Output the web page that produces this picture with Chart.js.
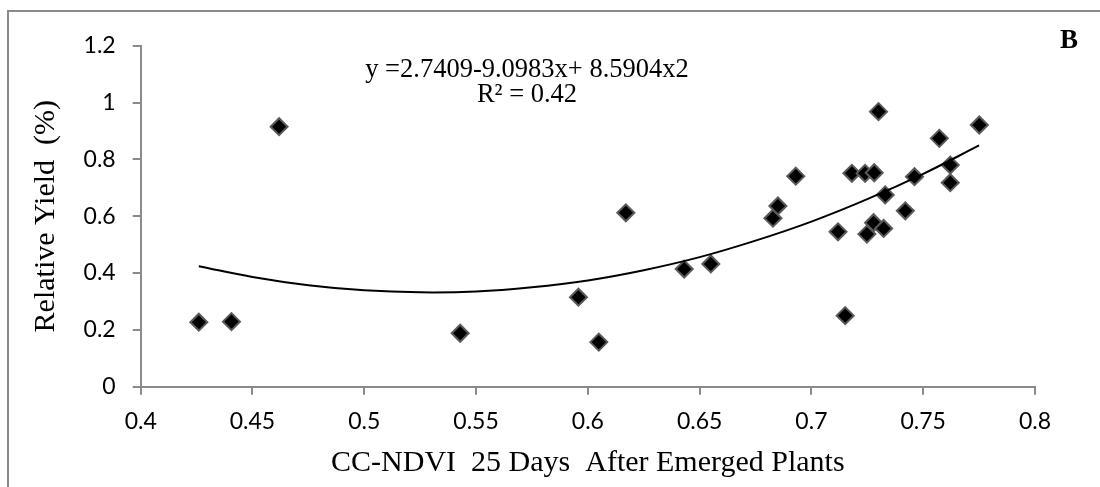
<!DOCTYPE html>
<html>
<head>
<meta charset="utf-8">
<script src="https://cdn.jsdelivr.net/npm/chart.js@4/dist/chart.umd.min.js"></script>
<style>
  html,body{margin:0;padding:0;background:#fff;}
  #chartB{display:block;}
</style>
</head>
<body>
<canvas id="chartB" width="1100" height="487"></canvas>
<script>
// measured points: CC-NDVI (x) vs relative yield (y)
const ndvi = [0.426,0.4406,0.4619,0.5429,0.5958,0.6049,0.617,0.6431,0.655,0.6828,0.685,0.693,0.7119,0.7151,
  0.7181,0.724,0.7248,0.7278,0.7281,0.730,0.7323,0.733,0.742,0.7461,0.7572,0.7621,0.7621,0.7751];
const relYield = [0.227,0.229,0.915,0.188,0.315,0.157,0.612,0.414,0.432,0.593,0.636,0.741,0.545,0.250,
  0.751,0.751,0.537,0.577,0.753,0.968,0.557,0.675,0.619,0.739,0.874,0.780,0.718,0.921];

// polynomial trendline
const trendX = [0.426,0.45,0.475,0.5,0.525,0.55,0.575,0.6,0.625,0.65,0.675,0.7,0.725,0.75,0.775];
const trendY = [0.424,0.386,0.357,0.339,0.332,0.335,0.350,0.374,0.410,0.456,0.514,0.581,0.660,0.749,0.849];

const xTickValues = [0.4,0.45,0.5,0.55,0.6,0.65,0.7,0.75,0.8];
const xTickLabels = ['0.4','0.45','0.5','0.55','0.6','0.65','0.7','0.75','0.8'];
const yTickValues = [0,0.2,0.4,0.6,0.8,1,1.2];
const yTickLabels = ['0','0.2','0.4','0.6','0.8','1','1.2'];

const equationLines = ['y =2.7409-9.0983x+ 8.5904x2','R\u00B2 = 0.42'];
const panelLabel = 'B';

const axisGrey = '#8a8a8a';
const tickFont = {family:'Lato, "Open Sans", sans-serif', size:23, lineHeight:1.2};
const titleFont = {family:'"Liberation Serif", "Times New Roman", serif', size:30, lineHeight:1};

const frameAndText = {
  id:'frameAndText',
  beforeDraw(chart){
    const ctx = chart.ctx;
    ctx.save();
    ctx.strokeStyle = axisGrey; ctx.lineWidth = 2;
    ctx.strokeRect(8, 11, 1300, 700);
    ctx.restore();
  },
  afterDraw(chart){
    const ctx = chart.ctx;
    ctx.save();
    ctx.fillStyle = '#000';
    ctx.textAlign = 'center'; ctx.textBaseline = 'alphabetic';
    ctx.font = '26.5px "Liberation Serif", "Times New Roman", serif';
    ctx.fillText(equationLines[0], 527, 77);
    ctx.fillText(equationLines[1], 527, 102);
    ctx.textAlign = 'left';
    ctx.font = 'bold 27px "Liberation Serif", "Times New Roman", serif';
    ctx.fillText(panelLabel, 1060, 48);
    ctx.restore();
  }
};

new Chart(document.getElementById('chartB'), {
  type:'scatter',
  data:{datasets:[
    {label:'trend', data:trendX.map((x,i)=>({x, y:trendY[i]})), showLine:true, borderColor:'#000', borderWidth:2,
      pointRadius:0, tension:0.4, fill:false},
    {label:'points', data:ndvi.map((x,i)=>({x, y:relYield[i]})), pointStyle:'rectRot', pointRadius:8.5,
      pointHoverRadius:8.5, backgroundColor:'#000', borderColor:'#5a5a5a', borderWidth:2}
  ]},
  options:{
    responsive:false, animation:false, devicePixelRatio:1,
    layout:{padding:{left:10, top:45.7, right:65, bottom:0}},
    plugins:{legend:{display:false}, tooltip:{enabled:false}},
    scales:{
      x:{type:'linear', min:0.4, max:0.8,
        afterBuildTicks: s => { s.ticks = xTickValues.map(v=>({value:v})); },
        afterFit: s => { s.height = 100.3; },
        ticks:{callback:(v,i)=>xTickLabels[i], color:'#000', font:tickFont, padding:13, maxRotation:0, autoSkip:false},
        grid:{drawOnChartArea:false, drawTicks:true, tickLength:8, color:axisGrey, lineWidth:2},
        border:{color:axisGrey, width:2},
        title:{display:true, text:'CC-NDVI  25 Days  After Emerged Plants', color:'#000', font:titleFont, padding:{top:0, bottom:9}}
      },
      y:{type:'linear', min:0, max:1.2,
        afterBuildTicks: s => { s.ticks = yTickValues.map(v=>({value:v})); },
        afterFit: s => { s.width = 130.7; },
        ticks:{callback:(v,i)=>yTickLabels[i], color:'#000', font:tickFont, padding:17},
        grid:{drawOnChartArea:false, drawTicks:true, tickLength:8, color:axisGrey, lineWidth:2},
        border:{color:axisGrey, width:2},
        title:{display:true, text:'Relative Yield  (%)', color:'#000', font:titleFont, padding:{top:21, bottom:0}}
      }
    }
  },
  plugins:[frameAndText]
});
</script>
</body>
</html>
